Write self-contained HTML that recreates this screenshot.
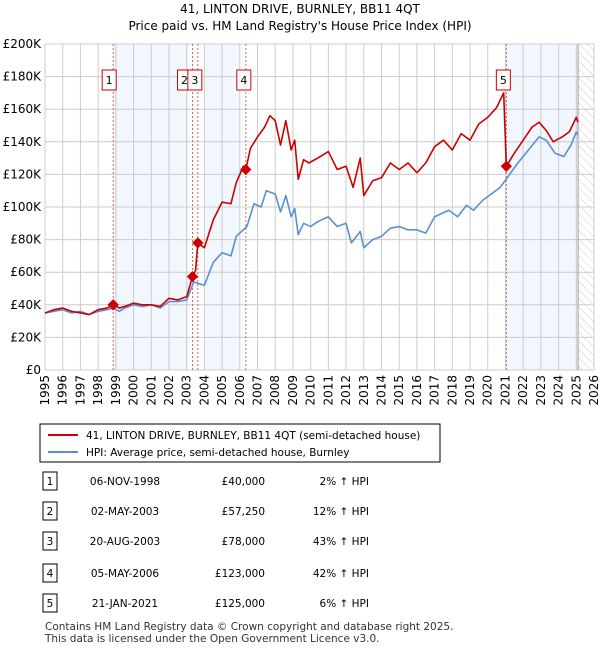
<!DOCTYPE html>
<html><head><meta charset="utf-8"><style>
body{margin:0;background:#fff;font-family:"Liberation Sans","DejaVu Sans",sans-serif;}
svg text{font-family:"DejaVu Sans","Liberation Sans",sans-serif;}
</style></head><body>
<svg width="600" height="650" viewBox="0 0 600 650">
<defs><pattern id="hatch" width="6" height="6" patternUnits="userSpaceOnUse" patternTransform="rotate(-45)"><line x1="0" y1="0" x2="0" y2="6" stroke="#ccc" stroke-width="1"/></pattern></defs>
<text x="300" y="13" font-size="12" text-anchor="middle">41, LINTON DRIVE, BURNLEY, BB11 4QT</text>
<text x="300" y="30" font-size="12" text-anchor="middle">Price paid vs. HM Land Registry's House Price Index (HPI)</text>
<g id="plot"></g>
<g id="legend">
<rect x="40" y="424" width="400" height="38" fill="#fff" stroke="#000" stroke-width="1"/>
<line x1="48" y1="435" x2="78" y2="435" stroke="#cc0000" stroke-width="2"/>
<text x="86" y="439" font-size="10.5">41, LINTON DRIVE, BURNLEY, BB11 4QT (semi-detached house)</text>
<line x1="48" y1="452" x2="78" y2="452" stroke="#5b8fd4" stroke-width="2"/>
<text x="86" y="456" font-size="10.5">HPI: Average price, semi-detached house, Burnley</text>
</g>
<g id="table"></g>
<text x="45" y="630" font-size="10.5" fill="#333">Contains HM Land Registry data © Crown copyright and database right 2025.</text>
<text x="45" y="642" font-size="10.5" fill="#333">This data is licensed under the Open Government Licence v3.0.</text>
</svg>
<script>
const hpiDates=[1995,1995.5,1996,1996.5,1997,1997.5,1998,1998.5,1998.85,1999.2,1999.5,2000,2000.5,2001,2001.5,2002,2002.5,2003,2003.4,2004,2004.5,2005,2005.5,2005.8,2006.2,2006.4,2006.8,2007.2,2007.5,2008,2008.3,2008.6,2008.9,2009.1,2009.3,2009.6,2010,2010.4,2011,2011.5,2012,2012.3,2012.8,2013,2013.5,2014,2014.5,2015,2015.5,2016,2016.5,2017,2017.8,2018.3,2018.8,2019.2,2019.7,2020.2,2020.7,2021.1,2021.7,2022.3,2022.9,2023.3,2023.8,2024.3,2024.7,2025.0,2025.1];
const hpiValues=[35,36,37,35,36,34,36,37,38,36,38,40,39,40,38,42,42,43,54,52,66,72,70,82,86,88,102,100,110,108,97,107,94,99,83,90,88,91,94,88,90,78,85,75,80,82,87,88,86,86,84,94,98,94,101,98,104,108,112,118,127,135,143,141,133,131,138,146,144];
const priceDates=[1995,1995.5,1996,1996.5,1997,1997.5,1998,1998.5,1998.85,1999.2,1999.5,2000,2000.5,2001,2001.5,2002,2002.5,2003,2003.33,2003.5,2003.63,2004,2004.5,2005,2005.5,2005.8,2006.2,2006.34,2006.6,2007,2007.4,2007.7,2008,2008.3,2008.6,2008.9,2009.1,2009.3,2009.6,2009.9,2010.4,2011,2011.5,2012,2012.4,2012.8,2013,2013.5,2014,2014.5,2015,2015.5,2016,2016.5,2017,2017.5,2018,2018.5,2019,2019.5,2020,2020.5,2020.9,2021.05,2021.5,2022,2022.5,2022.9,2023.3,2023.7,2024.2,2024.6,2025.0,2025.1];
const priceValues=[35,37,38,36,35,34,37,38,40,38,39,41,40,40,39,44,43,45,57.25,61,78,75,92,103,102,115,125,123,136,143,149,156,153,138,153,135,141,117,129,127,130,134,123,125,112,130,107,116,118,127,123,127,121,127,137,141,135,145,141,151,155,161,170,125,133,141,149,152,147,140,143,146,155,152];
const saleDates=[1998.85,2003.33,2003.63,2006.34,2021.05];
const saleValues=[40,57.25,78,123,125];
const saleLabels=["1","2","3","4","5"];
const saleDateText=["06-NOV-1998","02-MAY-2003","20-AUG-2003","05-MAY-2006","21-JAN-2021"];
const salePriceText=["£40,000","£57,250","£78,000","£123,000","£125,000"];
const saleHpiText=["2% ↑ HPI","12% ↑ HPI","43% ↑ HPI","42% ↑ HPI","6% ↑ HPI"];
const yTicks=[0,20,40,60,80,100,120,140,160,180,200];
const xTicks=[1995,1996,1997,1998,1999,2000,2001,2002,2003,2004,2005,2006,2007,2008,2009,2010,2011,2012,2013,2014,2015,2016,2017,2018,2019,2020,2021,2022,2023,2024,2025,2026];
const shadeRanges=[[1998.85,2003.1],[2004,2006],[2021.05,2025.1]];

const NS="http://www.w3.org/2000/svg";
const L=45,R=594,T=44,B=370;
const X=d=>L+(d-1995)/(2026-1995)*(R-L);
const Y=v=>B-v/200*(B-T);
function mk(tag,attrs,parent){const e=document.createElementNS(NS,tag);for(const k in attrs)e.setAttribute(k,attrs[k]);parent.appendChild(e);return e;}
const plot=document.getElementById('plot');
let r=mk('rect',{x:L,y:T,width:R-L,height:B-T,fill:'#fff'},plot);


shadeRanges.forEach(s=>{const e=mk('rect',{x:X(s[0]),y:T,width:X(s[1])-X(s[0]),height:B-T,fill:'#f2f6fd'},plot);

});
let h=mk('rect',{x:X(2025.1),y:T,width:R-X(2025.1),height:B-T,fill:'url(#hatch)'},plot);


yTicks.forEach(t=>{mk('line',{x1:L,x2:R,y1:Y(t),y2:Y(t),stroke:'#ccc','stroke-width':1},plot);
const tx=mk('text',{x:L-4,y:Y(t)+4,'font-size':12,'text-anchor':'end'},plot);tx.textContent=t===0?'£0':'£'+t+'K';

});
xTicks.forEach(t=>{mk('line',{x1:X(t),x2:X(t),y1:T,y2:B,stroke:'#ccc','stroke-width':1},plot);
const tx=mk('text',{x:0,y:0,'font-size':12,'text-anchor':'end',transform:`translate(${X(t)+4},${B+5}) rotate(-90)`},plot);tx.textContent=t;

});
mk('line',{x1:X(2025.1),x2:X(2025.1),y1:T,y2:B,stroke:'#999','stroke-width':1},plot);
saleDates.forEach((d,i)=>{const l=mk('line',{x1:X(d),x2:X(d),y1:T,y2:B,stroke:'#e06060','stroke-width':1,'stroke-dasharray':'2,2'},plot);

});
function line(ds,vs,col,name){const p=mk('polyline',{points:ds.map((d,i)=>X(d)+','+Y(vs[i])).join(' '),fill:'none',stroke:col,'stroke-width':1.6,'stroke-linejoin':'round'},plot);

}
line(hpiDates,hpiValues,'#5b8fd4','hpi-line');
line(priceDates,priceValues,'#cc0000','price-line');
const boxOffsets=[-4,-8,-3,-2,-3];
saleDates.forEach((d,i)=>{const c=mk('rect',{x:X(d)-4,y:Y(saleValues[i])-4,width:8,height:8,fill:'#cc0000',transform:`rotate(45 ${X(d)} ${Y(saleValues[i])})`},plot);


const cx=X(d)+boxOffsets[i];
const g=mk('g',{},plot);


mk('rect',{x:cx-7,y:70,width:14,height:20,fill:'#fff',stroke:'#cc0000'},g);
const t=mk('text',{x:cx,y:84,'font-size':11,'text-anchor':'middle'},g);t.textContent=saleLabels[i];});
const tb=document.getElementById('table');
const rowY=[482,512,542,574,604];
saleLabels.forEach((s,i)=>{const y=rowY[i];
const g=mk('g',{},tb);


mk('rect',{x:43,y:y-10,width:14,height:18,fill:'#fff',stroke:'#000'},g);
let t=mk('text',{x:50,y:y+3,'font-size':10.5,'text-anchor':'middle'},g);t.textContent=s;
t=mk('text',{x:125,y:y+3,'font-size':10.5,'text-anchor':'middle'},g);t.textContent=saleDateText[i];
t=mk('text',{x:265,y:y+3,'font-size':10.5,'text-anchor':'end'},g);t.textContent=salePriceText[i];
t=mk('text',{x:369,y:y+3,'font-size':10.5,'text-anchor':'end'},g);t.textContent=saleHpiText[i];});
</script>
</body></html>
